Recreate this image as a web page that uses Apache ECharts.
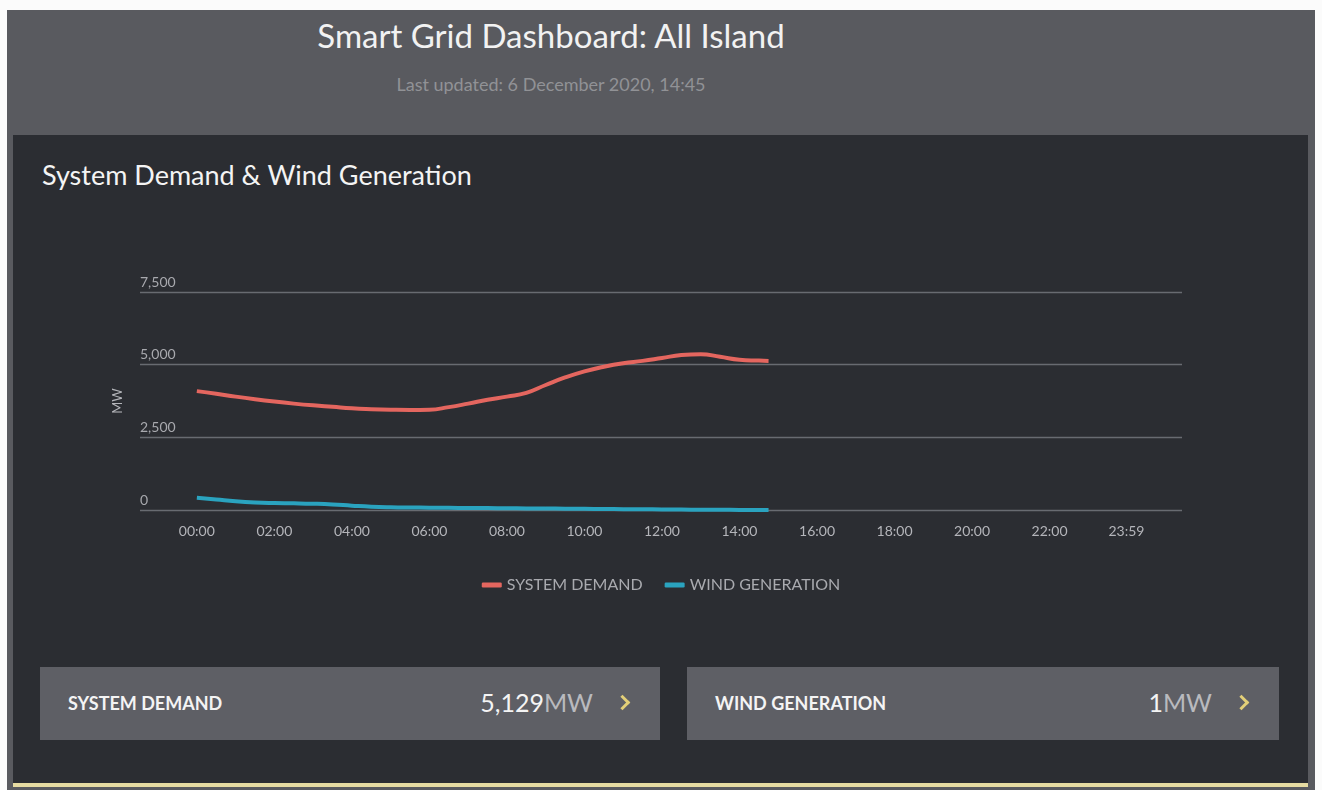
<!DOCTYPE html>
<html>
<head>
<meta charset="utf-8">
<script src="https://cdn.jsdelivr.net/npm/echarts@6/dist/echarts.min.js"></script>
<style>
  html, body { margin: 0; padding: 0; background: #fbfbfb; font-family: Lato, "Open Sans", sans-serif; }
  #frame { position: absolute; left: 7px; top: 10px; width: 1308px; height: 780px; background: #595a5f; }
  #panel { position: absolute; left: 13px; top: 135px; width: 1295px; height: 648px; background: #2b2d32; }
  #gold { position: absolute; left: 13px; top: 783px; width: 1295px; height: 4px; background: #e6dba2; }
  .head { position: absolute; left: 0; width: 1102px; text-align: center; }
  #h1 { top: 15px; font-size: 33px; color: #f2f2f2; }
  #h2 { top: 73px; font-size: 18px; color: #919296; }
  #ptitle { position: absolute; left: 42px; top: 158px; font-size: 27px; color: #f4f4f4; }
  .card { position: absolute; top: 667px; height: 73px; background: #5e5f65; }
  .card .lbl { position: absolute; left: 28px; top: 25px; font-size: 18px; font-weight: bold; color: #f4f4f4; }
  .card .val { position: absolute; right: 67px; top: 20px; font-size: 25px; color: #f4f4f4; }
  .card .val span { color: #b9babe; }
  .card .chev { position: absolute; right: 32px; top: 30px; width: 8px; height: 8px;
    border-right: 3px solid #e3cf78; border-top: 3px solid #e3cf78; transform: rotate(45deg); }
  #main { position: absolute; left: 0; top: 0; width: 1322px; height: 790px; }
</style>
</head>
<body>
<div id="frame"></div>
<div id="panel"></div>
<div id="gold"></div>
<div class="head" id="h1">Smart Grid Dashboard: All Island</div>
<div class="head" id="h2">Last updated: 6 December 2020, 14:45</div>
<div id="ptitle">System Demand &amp; Wind Generation</div>
<div class="card" style="left:40px;width:620px;">
  <div class="lbl">SYSTEM DEMAND</div>
  <div class="val">5,129<span>MW</span></div>
  <div class="chev"></div>
</div>
<div class="card" style="left:687px;width:592px;">
  <div class="lbl">WIND GENERATION</div>
  <div class="val">1<span>MW</span></div>
  <div class="chev"></div>
</div>
<div id="main"></div>
<script type="text/javascript">

var times = ['00:00','00:30','01:00','01:30','02:00','02:30','03:00','03:30','04:00','04:30',
             '05:00','05:30','06:00','06:30','07:00','07:30','08:00','08:30','09:00','09:30',
             '10:00','10:30','11:00','11:30','12:00','12:30','13:00','13:30','14:00','14:30','14:45'];
var demand = [4090,4000,3900,3810,3730,3660,3600,3550,3500,3470,
              3450,3440,3450,3540,3660,3790,3900,4030,4300,4560,
              4770,4930,5050,5130,5230,5330,5360,5270,5170,5140,5129];
var wind = [420,360,300,260,240,230,215,190,150,115,
            95,85,80,75,70,65,60,55,50,45,
            40,35,30,25,20,15,10,6,4,2,1];
var xTicks = ['00:00','02:00','04:00','06:00','08:00','10:00','12:00','14:00','16:00','18:00','20:00','22:00','23:59'];

function toMin(t) {
    var p = t.split(':');
    return +p[0] * 60 + +p[1];
}
function toTime(m) {
    var h = Math.floor(m / 60), mm = m % 60;
    return (h < 10 ? '0' : '') + h + ':' + (mm < 10 ? '0' : '') + mm;
}
function pairs(vals) {
    var out = [];
    for (var i = 0; i < times.length; i++) out.push([toMin(times[i]), vals[i]]);
    return out;
}

var myChart = echarts.init(document.getElementById('main'));
var option = {
    backgroundColor: 'transparent',
    textStyle: { fontFamily: 'Lato' },
    grid: { left: 140, right: 140, top: 292, bottom: 280 },
    legend: {
        top: 572,
        left: 'center',
        icon: 'roundRect',
        itemWidth: 20,
        itemHeight: 5,
        itemGap: 22,
        textStyle: { color: '#a9aaaf', fontSize: 16, fontFamily: 'Lato' },
        data: ['SYSTEM DEMAND', 'WIND GENERATION']
    },
    xAxis: {
        type: 'value',
        min: -88,
        max: 1525,
        splitLine: { show: false },
        axisLine: { show: false },
        axisTick: { show: false },
        axisLabel: {
            customValues: xTicks.map(toMin),
            formatter: function (v) { return toTime(v); },
            color: '#b4b5ba',
            fontSize: 14,
            margin: 14
        }
    },
    yAxis: {
        type: 'value',
        min: 0,
        max: 7500,
        interval: 2500,
        name: 'MW',
        nameLocation: 'middle',
        nameRotate: 90,
        nameGap: 16,
        nameTextStyle: { color: '#b4b5ba', fontSize: 13 },
        axisLine: { show: false },
        axisTick: { show: false },
        splitLine: { lineStyle: { color: '#686b71', width: 1.3 } },
        axisLabel: {
            inside: true,
            margin: 0,
            verticalAlign: 'bottom',
            padding: [0, 0, 3, 0],
            color: '#a8a9ae',
            fontSize: 14,
            formatter: function (v) { return v.toLocaleString('en-US'); }
        }
    },
    series: [{
        name: 'SYSTEM DEMAND',
        type: 'line',
        smooth: true,
        symbol: 'none',
        lineStyle: { width: 4, color: '#e4665f' },
        itemStyle: { color: '#e4665f' },
        data: pairs(demand)
    }, {
        name: 'WIND GENERATION',
        type: 'line',
        smooth: true,
        symbol: 'none',
        lineStyle: { width: 4, color: '#2aa3bf' },
        itemStyle: { color: '#2aa3bf' },
        data: pairs(wind)
    }]
};
myChart.setOption(option);
</script>
</body>
</html>
